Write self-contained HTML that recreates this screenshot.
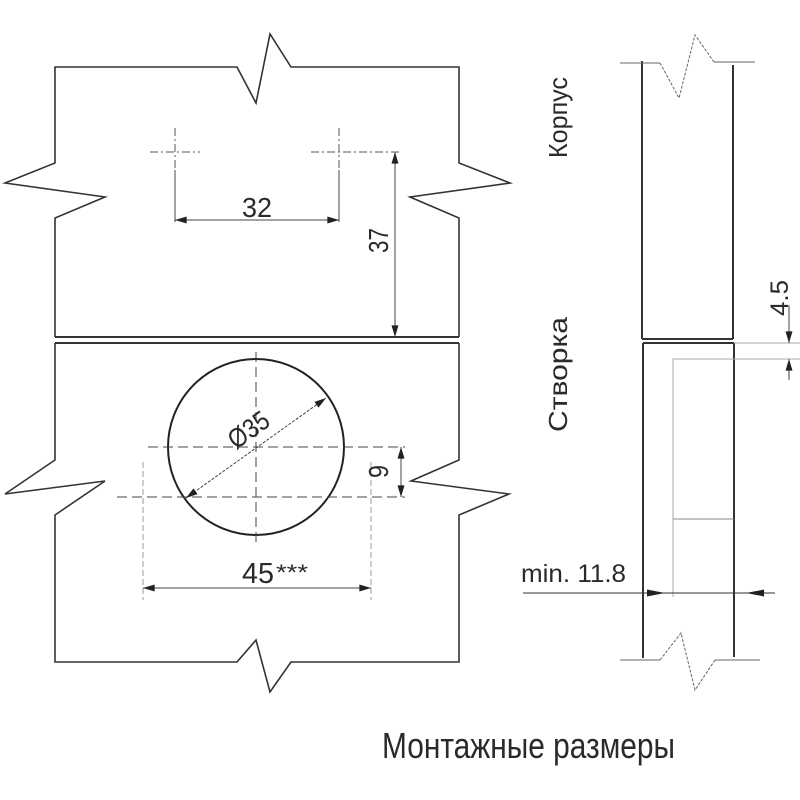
<!DOCTYPE html>
<html><head><meta charset="utf-8"><style>
html,body{margin:0;padding:0;background:#fff;}
svg{display:block;}
text{font-family:"Liberation Sans Narrow","Liberation Sans",sans-serif;fill:#2a2a2a;}
</style></head><body>
<svg width="800" height="800" viewBox="0 0 800 800" xmlns="http://www.w3.org/2000/svg">
<defs>
<marker id="ar" viewBox="0 0 10 6" refX="10" refY="3" markerWidth="16" markerHeight="7" markerUnits="userSpaceOnUse" orient="auto-start-reverse">
<path d="M0,0 L10,3 L0,6 Z" fill="#222"/></marker>
</defs>
<g fill="none" stroke="#333" stroke-width="1.6" stroke-linejoin="miter">
<polyline points="55,337 55,218 105,197 5,183 55,163 55,67 237,67 256,103 270,34 291,67 459,67 459,163 510,183 410,197 459,218 459,337"/>
<line x1="55" y1="337" x2="459" y2="337" stroke-width="2"/>
<line x1="55" y1="343" x2="459" y2="343" stroke-width="2"/>
<polyline points="55,343 55,460 5,494 105,481 55,515 55,662 237,662 256,640 270,692 291,662 459,662 459,515 509,494 411,481 459,460 459,343"/>
</g>
<g stroke="#555" stroke-width="1" fill="none" stroke-dasharray="8,3,2,3">
<line x1="175" y1="128" x2="175" y2="175"/>
<line x1="150" y1="152" x2="200" y2="152"/>
<line x1="339" y1="128" x2="339" y2="175"/>
<line x1="311" y1="152" x2="400" y2="152"/>
</g>
<g stroke="#444" stroke-width="1" fill="none">
<line x1="175" y1="170" x2="175" y2="222"/>
<line x1="339" y1="170" x2="339" y2="222"/>
<line x1="175" y1="220" x2="339" y2="220" marker-start="url(#ar)" marker-end="url(#ar)"/>
<line x1="395" y1="152" x2="395" y2="337" marker-start="url(#ar)" marker-end="url(#ar)"/>
</g>
<text x="242" y="217" font-size="28" textLength="30" lengthAdjust="spacingAndGlyphs">32</text>
<text transform="translate(388,253) rotate(-90)" font-size="28" textLength="25" lengthAdjust="spacingAndGlyphs">37</text>
<circle cx="256" cy="447" r="88" fill="none" stroke="#222" stroke-width="2"/>
<g stroke="#444" stroke-width="1" fill="none" stroke-dasharray="10,5">
<line x1="256" y1="352" x2="256" y2="543"/>
<line x1="148" y1="447" x2="405" y2="447"/>
<line x1="117" y1="497" x2="405" y2="497"/>
</g>
<g stroke="#999" stroke-width="1" fill="none" stroke-dasharray="6,3">
<line x1="143" y1="462" x2="143" y2="600"/>
<line x1="371" y1="462" x2="371" y2="600"/>
</g>
<g stroke="#444" stroke-width="1" fill="none">
<line x1="143" y1="588" x2="371" y2="588" marker-start="url(#ar)" marker-end="url(#ar)"/>
<line x1="186" y1="498" x2="326" y2="398" stroke-dasharray="3,1.5" marker-start="url(#ar)" marker-end="url(#ar)"/>
<line x1="401" y1="447" x2="401" y2="497" marker-start="url(#ar)" marker-end="url(#ar)"/>
</g>
<text transform="translate(236,450) rotate(-35.5)" font-size="27" textLength="44" lengthAdjust="spacingAndGlyphs">Ø35</text>
<text transform="translate(388,478) rotate(-90)" font-size="28" textLength="13" lengthAdjust="spacingAndGlyphs">9</text>
<text x="242" y="583" font-size="29" textLength="32" lengthAdjust="spacingAndGlyphs">45</text>
<text x="276" y="580" font-size="22" textLength="32" lengthAdjust="spacingAndGlyphs">***</text>
<g fill="none" stroke="#333" stroke-width="2">
<line x1="642" y1="61" x2="642" y2="339"/>
<line x1="733" y1="65" x2="733" y2="339"/>
<line x1="642" y1="339" x2="733" y2="339"/>
<line x1="643" y1="343" x2="734" y2="343"/>
<line x1="643" y1="343" x2="643" y2="658"/>
<line x1="734" y1="343" x2="734" y2="657"/>
</g>
<g fill="none" stroke="#666" stroke-width="1">
<polyline points="620,63 660,63"/>
<polyline points="714,62 755,62"/>
<polyline points="660,63 679,98 695,35 714,62" stroke-dasharray="3,1.5"/>
<polyline points="620,660 660,660"/>
<polyline points="715,660 760,660"/>
<polyline points="660,660 681,633 695,690 715,660" stroke-dasharray="3,1.5"/>
<line x1="734" y1="343" x2="800" y2="343" stroke="#aaa"/>
<polyline points="673,597 673,359 800,359" stroke="#aaa"/>
<line x1="673" y1="519" x2="734" y2="519" stroke="#888"/>
<line x1="789" y1="305" x2="789" y2="343" marker-end="url(#ar)" stroke="#444"/>
<line x1="789" y1="380" x2="789" y2="359" marker-end="url(#ar)" stroke="#444"/>
<line x1="523" y1="593" x2="775" y2="593" stroke="#333"/>
</g>
<path d="M647,589.5 L665,593 L647,596.5 Z M764,589.5 L746,593 L764,596.5 Z" fill="#222"/>
<text transform="translate(788,316) rotate(-90)" font-size="25" textLength="36" lengthAdjust="spacingAndGlyphs">4.5</text>
<text x="521" y="582" font-size="25" textLength="105" lengthAdjust="spacingAndGlyphs">min. 11.8</text>
<text transform="translate(567,158) rotate(-90)" font-size="26" textLength="81" lengthAdjust="spacingAndGlyphs">Корпус</text>
<text transform="translate(567,432) rotate(-90)" font-size="26" textLength="115" lengthAdjust="spacingAndGlyphs">Створка</text>
<text x="382" y="758" font-size="36" textLength="293" lengthAdjust="spacingAndGlyphs">Монтажные размеры</text>
</svg>
</body></html>
